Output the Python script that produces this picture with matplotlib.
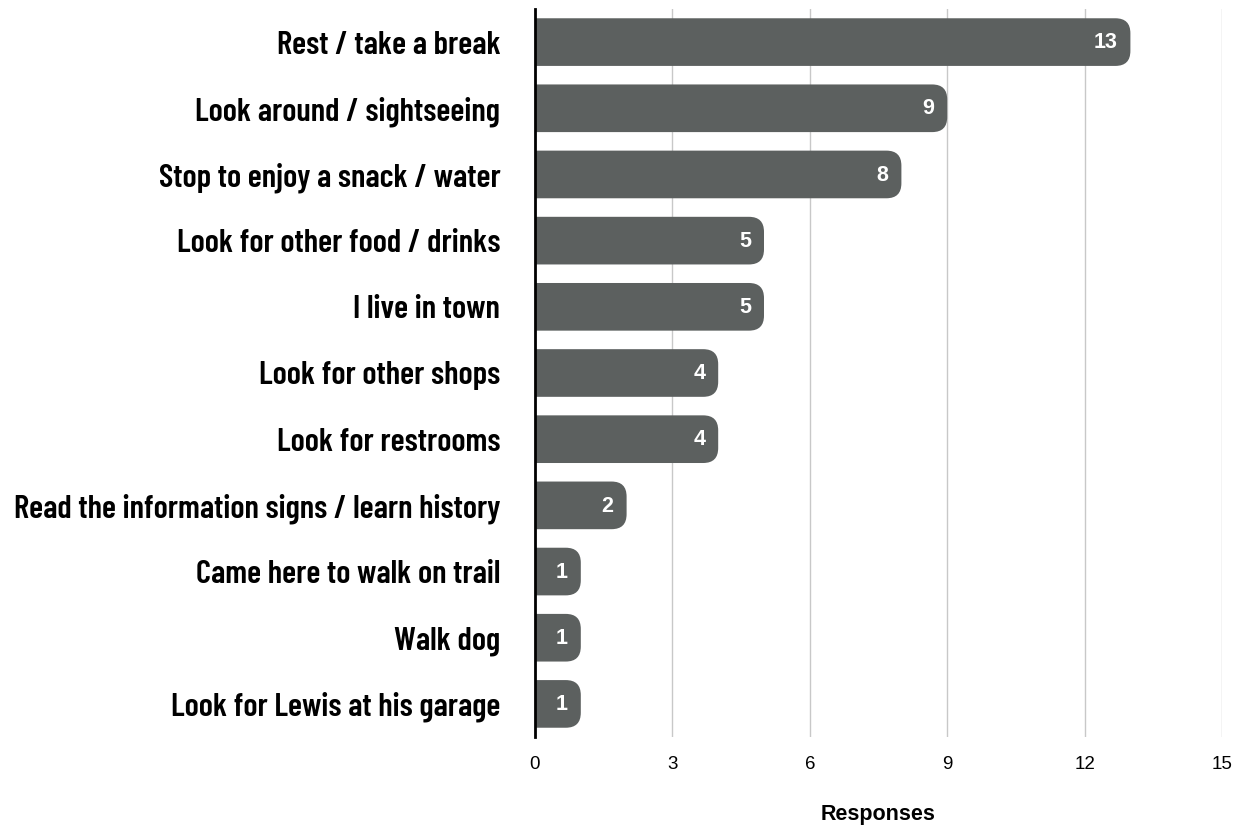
import matplotlib
matplotlib.use("Agg")
import matplotlib.pyplot as plt
from matplotlib.patches import PathPatch
from matplotlib.path import Path
from matplotlib import font_manager

categories = [
    "Rest / take a break",
    "Look around / sightseeing",
    "Stop to enjoy a snack / water",
    "Look for other food / drinks",
    "I live in town",
    "Look for other shops",
    "Look for restrooms",
    "Read the information signs / learn history",
    "Came here to walk on trail",
    "Walk dog",
    "Look for Lewis at his garage",
]
values = [13, 9, 8, 5, 5, 4, 4, 2, 1, 1, 1]
xticks = [0, 3, 6, 9, 12, 15]

names = {f.name for f in font_manager.fontManager.ttflist}
label_font = "DejaVu Sans"
for cand in ["Barlow Condensed", "Barlow Semi Condensed", "Roboto Condensed",
             "PT Sans Narrow", "Archivo Narrow", "Fira Sans Condensed",
             "Liberation Sans Narrow", "Open Sans Condensed"]:
    if cand in names:
        label_font = cand
        break
num_font = "Liberation Sans"

bar_color = "#5c605f"

W, H = 1233, 825
fig = plt.figure(figsize=(W / 100, H / 100), dpi=100)
ax_rect = [535 / W, 1 - 737 / H, (1222 - 535) / W, (737 - 9) / H]
ax = fig.add_axes(ax_rect)

ypos = list(range(len(categories)))
bars = ax.barh(ypos, values, height=0.72, color=bar_color)
ax.set_xlim(0, 15)
ax.set_ylim(len(categories) - 0.5, -0.5)

px_x = ax_rect[2] * W / 15
px_y = ax_rect[3] * H / len(categories)
rx = 15 / px_x
ry = 15 / px_y

for b, v in zip(bars, values):
    b.set_visible(False)
    x0, y0, w, h = b.get_x(), b.get_y(), b.get_width(), b.get_height()
    x1, y1 = x0 + w, y0 + h
    verts = [(x0, y0), (x1 - rx, y0), (x1, y0), (x1, y0 + ry),
             (x1, y1 - ry), (x1, y1), (x1 - rx, y1), (x0, y1), (x0, y0)]
    codes = [Path.MOVETO, Path.LINETO, Path.CURVE3, Path.CURVE3,
             Path.LINETO, Path.CURVE3, Path.CURVE3, Path.LINETO, Path.CLOSEPOLY]
    ax.add_patch(PathPatch(Path(verts, codes), facecolor=bar_color,
                           edgecolor="none", zorder=2))
    ax.text(x1 - 13 / px_x, y0 + h / 2 + 0.01, str(v), color="white",
            ha="right", va="center", fontsize=15.5, fontweight="bold",
            family=num_font, zorder=3)

ax.set_yticks(ypos)
ax.set_yticklabels(categories, fontsize=21, fontweight="semibold", family=label_font)
ax.tick_params(axis="y", length=0, pad=25)

# fit the label font so the longest label spans like the reference
fig.canvas.draw()
r = fig.canvas.get_renderer()
longest = max(ax.get_yticklabels(), key=lambda t: t.get_window_extent(r).width)
wpx = longest.get_window_extent(r).width
scale = 488 / wpx
fs = max(16, min(26, 21 * scale))
for t in ax.get_yticklabels():
    t.set_fontsize(fs)

ax.set_xticks(xticks)
ax.set_xticklabels([str(t) for t in xticks], fontsize=13.5, family=num_font)
ax.tick_params(axis="x", length=0, pad=14)
ax.grid(axis="x", color="#c8c8c8", linewidth=1.0, zorder=0)
ax.set_axisbelow(True)
for s in ["top", "right", "bottom"]:
    ax.spines[s].set_visible(False)
ax.spines["left"].set_linewidth(2)
ax.spines["left"].set_color("black")
ax.spines["left"].set_zorder(4)
ax.set_xlabel("Responses", fontsize=15.5, fontweight="bold", family=num_font, labelpad=22)

fig.savefig("out.png", dpi=100)
